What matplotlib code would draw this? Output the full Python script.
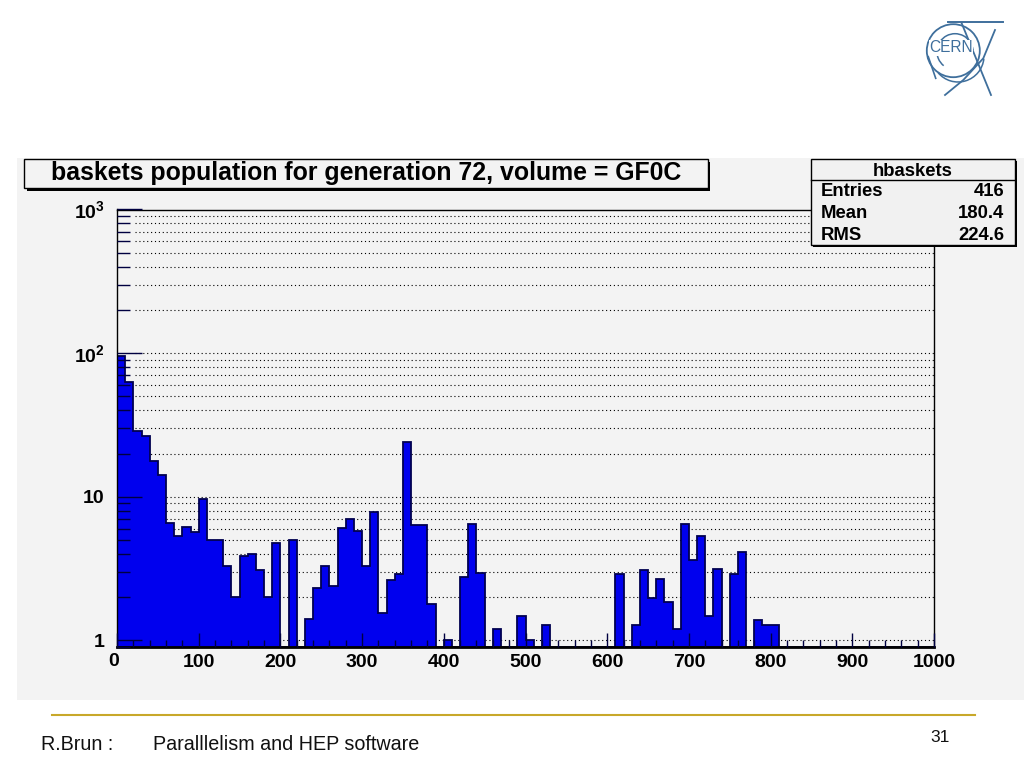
import numpy as np
import matplotlib
matplotlib.use("Agg")
import matplotlib.pyplot as plt
from matplotlib.patches import Rectangle, Circle, Arc
from matplotlib.ticker import FixedLocator, FixedFormatter, MultipleLocator, NullFormatter

plt.rcParams['font.family'] = ['Liberation Sans', 'DejaVu Sans']
plt.rcParams['mathtext.fontset'] = 'custom'
plt.rcParams['mathtext.rm'] = 'Liberation Sans:bold'
plt.rcParams['mathtext.default'] = 'rm'

# bin contents, one per 10 wide bin starting at 0
counts_0 = [96, 62.6, 28.6, 26.6, 17.8, 14.1, 6.6, 5.3, 6.2, 5.7,
            9.6, 5, 5, 3.3, 2, 3.9, 4, 3.1, 2, 4.75]
counts_200 = [0, 5, 0, 1.4, 2.3, 3.3, 2.4, 6.1, 7, 5.8,
              3.3, 7.8, 1.56, 2.65, 2.9, 24, 6.4, 6.4, 1.8, 0]
counts_400 = [1, 0, 2.77, 6.5, 2.95, 0, 1.2, 0, 0, 1.48,
              1, 0, 1.28, 0, 0, 0, 0, 0, 0, 0]
counts_600 = [0, 2.9, 0, 1.28, 3.1, 1.98, 2.68, 1.85, 1.2, 6.5,
              3.65, 5.3, 1.48, 3.15, 0, 2.9, 4.1, 0, 1.39, 1.28]
counts_800 = [1.28] + [0] * 19

y_ticks = [1, 10, 100, 1000]
y_labels = ['1', '10', '10$^{2}$', '10$^{3}$']
x_ticks = [0, 100, 200, 300, 400, 500, 600, 700, 800, 900, 1000]
x_labels = ['', '100', '200', '300', '400', '500', '600', '700', '800', '900', '1000']
title = 'baskets population for generation 72, volume = GF0C'
stats_names = ['Entries', 'Mean', 'RMS']
stats_values = ['416', '180.4', '224.6']

W, H = 1024, 768
counts = np.array(counts_0 + counts_200 + counts_400 + counts_600 + counts_800, dtype=float)
edges = np.arange(0, 1001, 10)
ymin = 0.9

fig = plt.figure(figsize=(W / 100, H / 100), dpi=100, facecolor='white')

# background layer in pixel coords
bg = fig.add_axes([0, 0, 1, 1], zorder=0)
bg.set_xlim(0, W)
bg.set_ylim(H, 0)
bg.axis('off')
bg.add_patch(Rectangle((17, 158), 1007, 542, fc='#f3f3f3', ec='none'))

ax = fig.add_axes([117 / W, 1 - 647 / H, (934 - 117) / W, (647 - 209.5) / H], zorder=1)
ax.patch.set_alpha(0)
ax.set_yscale('log')
ax.set_xlim(0, 1000)
ax.set_ylim(ymin, 1000)
ax.set_axisbelow(False)
minor_y = [0.9] + [m * d for d in (1, 10, 100) for m in range(2, 10)]
ax.yaxis.set_major_locator(FixedLocator(y_ticks))
ax.yaxis.set_major_formatter(FixedFormatter(y_labels))
ax.yaxis.set_minor_locator(FixedLocator(minor_y))
ax.yaxis.set_minor_formatter(NullFormatter())
ax.xaxis.set_major_locator(FixedLocator(x_ticks))
ax.xaxis.set_major_formatter(FixedFormatter(x_labels))
ax.xaxis.set_minor_locator(MultipleLocator(20))
tick_col = '#000040'
ax.tick_params(axis='y', which='major', direction='in', length=18, width=1, color=tick_col, labelsize=14, pad=9)
ax.tick_params(axis='y', which='minor', direction='in', length=9, width=1, color=tick_col)
ax.tick_params(axis='x', which='major', direction='in', length=10, width=1, color=tick_col, labelsize=14, pad=5)
ax.tick_params(axis='x', which='minor', direction='in', length=5, width=1, color=tick_col)
for lab in ax.get_xticklabels() + ax.get_yticklabels():
    lab.set_fontweight('bold')

# dotted lines start just past the ticks
grid_y = [v for v in y_ticks + minor_y if v > ymin]
ax.hlines(grid_y, 22, 1000, color='black', lw=0.8, linestyle=(0, (1, 2.5)), zorder=1)
for s in ax.spines.values():
    s.set_linewidth(1)
ax.spines['bottom'].set_linewidth(2)

shown = np.clip(counts, ymin, None)
ax.stairs(shown, edges, baseline=ymin, fill=True, color='#0000ee', zorder=2)
ax.stairs(shown, edges, baseline=ymin, color='#000050', lw=1.3, zorder=2.2)

# title box and stats box sit on top of the plot
top = fig.add_axes([0, 0, 1, 1], zorder=2)
top.set_xlim(0, W)
top.set_ylim(H, 0)
top.axis('off')

top.text(114, 661.5, '0', fontsize=14, fontweight='bold', ha='center', va='center')

top.add_patch(Rectangle((27, 162), 683, 29, fc='black', ec='none'))
top.add_patch(Rectangle((24, 159), 684, 29, fc='#f3f3f3', ec='black', lw=1))
top.text(366, 173, title, fontsize=17.9, fontweight='bold', ha='center', va='center')

top.add_patch(Rectangle((813, 161), 204, 86, fc='black', ec='none'))
top.add_patch(Rectangle((811, 159), 204, 86, fc='#f1f1f1', ec='black', lw=1))
top.plot([811, 1015], [180, 180], color='black', lw=1)
top.text(913, 171, 'hbaskets', fontsize=13.3, fontweight='bold', ha='center', va='center')
for i in range(3):
    top.text(821, 192 + i * 22, stats_names[i], fontsize=13.3, fontweight='bold', va='center')
    top.text(1004, 192 + i * 22, stats_values[i], fontsize=13.3, fontweight='bold', va='center', ha='right')

# footer
top.plot([52, 975], [715, 715], color='#c8a82a', lw=1.5)
top.text(41, 745, 'R.Brun :', fontsize=14.2, va='center', color='#111111')
top.text(153, 745, 'Paralllelism and HEP software', fontsize=14.2, va='center', color='#111111')
top.text(940, 737, '31', fontsize=12.5, va='center', ha='center', color='#111111')

# CERN logo
logo = '#3f6f9c'
top.add_patch(Circle((953.3, 50.7), 26.5, fc='none', ec=logo, lw=1.3))
top.add_patch(Arc((955, 51.7), 36, 36, theta1=129, theta2=355, ec=logo, lw=1.1))
top.add_patch(Arc((958, 56), 52, 52, theta1=6, theta2=140, ec=logo, lw=1.1))
top.plot([948, 1002.7], [22.3, 22.3], color=logo, lw=1.4)
top.plot([961.7, 991], [23.3, 95], color=logo, lw=1.3)
top.plot([995, 983.3, 963.3, 945], [30, 58.3, 80, 95], color=logo, lw=1.3)
top.plot([928.3, 935.7], [56.7, 78.3], color=logo, lw=1.2)
top.text(951, 48, 'CERN', fontsize=11.2, color=logo, ha='center', va='center',
         bbox=dict(fc='white', ec='none', pad=0.5))

fig.savefig('out.png', dpi=100)
